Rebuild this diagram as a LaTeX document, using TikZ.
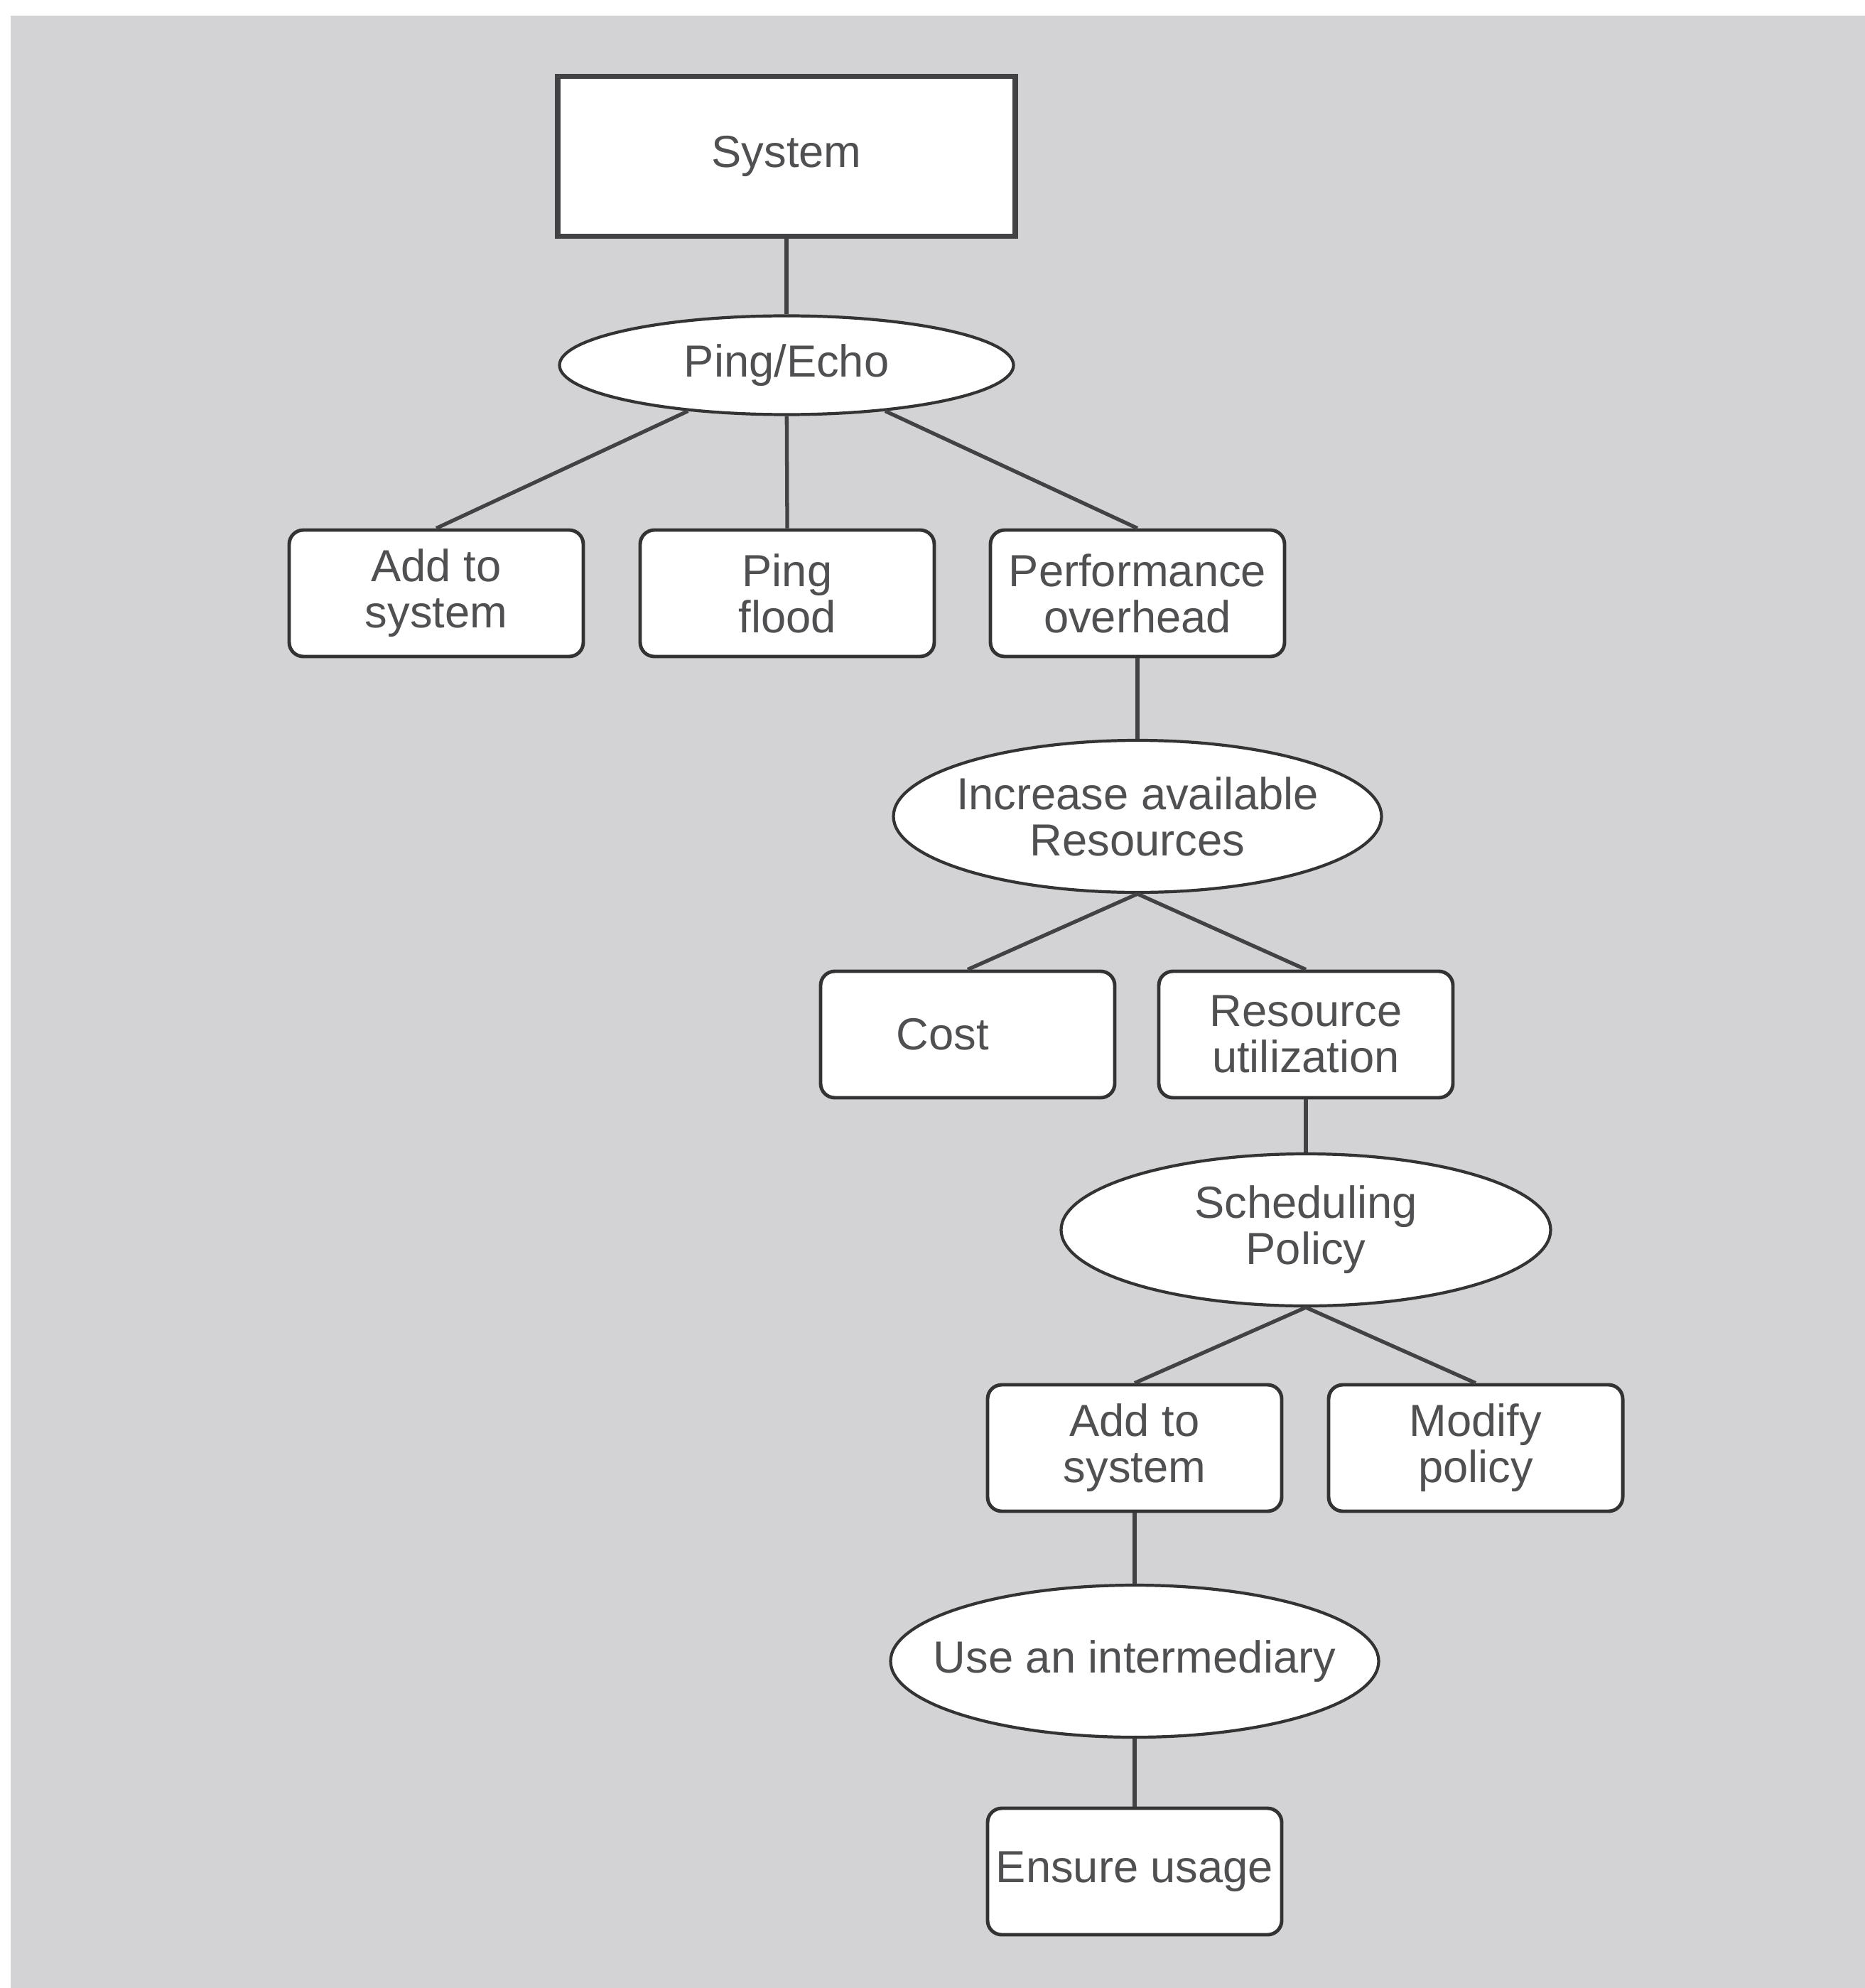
\documentclass[tikz,border=0pt]{standalone}
\usepackage{fontspec}
\setmainfont{Liberation Sans}
\usetikzlibrary{shapes.geometric}
\definecolor{bggray}{RGB}{211,211,214}
\definecolor{inkgray}{RGB}{80,80,82}
\definecolor{linegray}{RGB}{66,66,68}
\begin{document}
\begin{tikzpicture}[
  every node/.style={font=\fontsize{18}{18.5}\selectfont,text=inkgray,align=center},
  sysbox/.style={draw=linegray,line width=2.2pt,fill=white,minimum width=6.44cm,minimum height=2.25cm},
  tactic/.style={ellipse,draw=black!80,line width=1.2pt,fill=white,inner xsep=-1cm,inner ysep=0pt},
  leaf/.style={draw=black!80,line width=1.4pt,fill=white,rounded corners=2mm,minimum width=4.14cm,minimum height=1.78cm},
  link/.style={draw=linegray,line width=1.5pt}]
  \useasboundingbox (0,0) rectangle (26.25,-27.98);
  \fill[bggray] (0.15,-0.22) rectangle (26.25,-27.98);
  % top of the tree
  \node[sysbox] (sys) at (11.07,-2.20) {System};
  \node[tactic,minimum width=6.39cm,minimum height=1.39cm] (ping) at (11.07,-5.14) {Ping/Echo};
  \node[leaf] (add1) at (6.14,-8.35) {Add to\\system};
  \node[leaf] (flood) at (11.08,-8.35) {Ping\\flood};
  \node[leaf] (perf) at (16.01,-8.35) {Performance\\overhead};
  % resources branch
  \node[tactic,minimum width=6.87cm,minimum height=2.14cm] (inc) at (16.01,-11.49) {Increase available\\Resources};
  \node[leaf] (cost) at (13.62,-14.56) {Cost\hspace*{7mm}};
  \node[leaf] (util) at (18.38,-14.56) {Resource\\utilization};
  \node[tactic,minimum width=6.89cm,minimum height=2.14cm] (sched) at (18.38,-17.31) {Scheduling\\Policy};
  \node[leaf] (add2) at (15.97,-20.38) {Add to\\system};
  \node[leaf] (modp) at (20.77,-20.38) {Modify\\policy};
  \node[tactic,minimum width=6.87cm,minimum height=2.14cm] (interm) at (15.97,-23.38) {Use an intermediary};
  \node[leaf] (ensure) at (15.97,-26.34) {Ensure usage};
  % connectors
  \draw[link] (sys) -- (ping);
  \foreach \n in {add1,flood,perf} \draw[link] (ping) -- (\n.north);
  \draw[link] (perf) -- (inc);
  \foreach \n in {cost,util} \draw[link] (inc.south) -- (\n.north);
  \draw[link] (util) -- (sched);
  \foreach \n in {add2,modp} \draw[link] (sched.south) -- (\n.north);
  \draw[link] (add2) -- (interm);
  \draw[link] (interm) -- (ensure);
\end{tikzpicture}
\end{document}
